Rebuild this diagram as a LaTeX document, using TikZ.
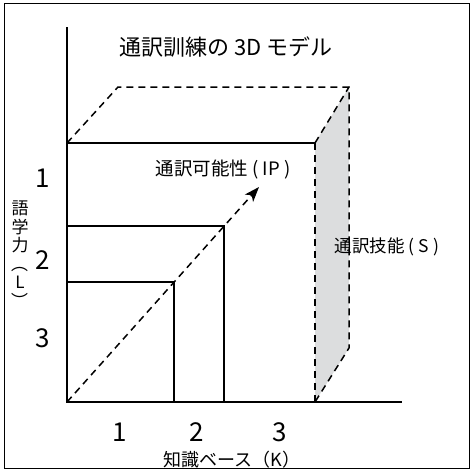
\documentclass[tikz,border=0pt]{standalone}
\usepackage{fontspec}
\usepackage{graphicx}
\setmainfont{Noto Sans CJK JP}
\usetikzlibrary{arrows.meta}
\definecolor{sidegray}{HTML}{DCDDDE}
\tikzset{
  axis/.style={line width=2.1pt},
  solid line/.style={line width=1.5pt},
  dash line/.style={line width=1.5pt, dash pattern=on 7pt off 5pt},
  lab/.style={inner sep=0pt, anchor=center},
}
\begin{document}
\begin{tikzpicture}[x=1pt,y=-1pt]
\useasboundingbox (0,0) rectangle (473,472);
\draw[line width=1.4pt] (4.5,3.5) rectangle (469.5,468.5);
% coordinates
\coordinate (O) at (67,402);
\coordinate (Ytop) at (67,27);
\coordinate (Xend) at (402,402);
\coordinate (FTL) at (67,143);
\coordinate (FTR) at (315,143);
\coordinate (FBR) at (315,402);
\coordinate (BTL) at (118,87);
\coordinate (BTR) at (349,87);
\coordinate (BBR) at (349,348);
\coordinate (MT) at (67,226);
\coordinate (MTR) at (224,226);
\coordinate (MBR) at (224,402);
\coordinate (ST) at (67,282);
\coordinate (STR) at (174,282);
\coordinate (SBR) at (174,402);
\coordinate (Tip) at (259,187);
% shaded side face
\fill[sidegray] (FTR) -- (BTR) -- (BBR) -- (FBR) -- cycle;
% dashed back edges
\draw[dash line] (FTL) -- (BTL) -- (BTR) -- (BBR) -- (FBR);
\draw[dash line] (FTR) -- (BTR);
\draw[dash line] (FTR) -- (FBR);
% front and inner rectangles
\draw[solid line] (FTL) -- (FTR);
\draw[solid line] (MT) -- (MTR) -- (MBR);
\draw[solid line] (ST) -- (STR) -- (SBR);
% axes
\draw[axis] (Ytop) -- (O) -- (Xend);
% diagonal arrow
\draw[dash line, -{Stealth[length=15pt,width=11pt,inset=4pt]}] (O) -- (Tip);
% labels
\node[lab, font=\fontsize{22}{26}\selectfont] (title) at (226,47) {通訳訓練の 3D モデル};
\node[lab, font=\fontsize{18.5}{22}\selectfont] (ip) at (223,170) {通訳可能性 ( IP )};
\node[lab, font=\fontsize{17.5}{20}\selectfont] (s) at (387,247) {通訳技能 ( S )};
\node[lab, font=\fontsize{18}{20}\selectfont] (k) at (232,460) {知識ベース（K）};
\node[lab, font=\fontsize{17}{18.5}\selectfont, align=center] (l) at (20,255)
  {語\\学\\力\\\rotatebox[origin=c]{-90}{（}\\L\\\rotatebox[origin=c]{-90}{）}};
\node[lab, font=\fontsize{26}{30}\selectfont] (y1) at (43,178) {1};
\node[lab, font=\fontsize{26}{30}\selectfont] (y2) at (43,260) {2};
\node[lab, font=\fontsize{26}{30}\selectfont] (y3) at (43,338) {3};
\node[lab, font=\fontsize{26}{30}\selectfont] (x1) at (120,432) {1};
\node[lab, font=\fontsize{26}{30}\selectfont] (x2) at (197,432) {2};
\node[lab, font=\fontsize{26}{30}\selectfont] (x3) at (280,432) {3};
\end{tikzpicture}
\end{document}
